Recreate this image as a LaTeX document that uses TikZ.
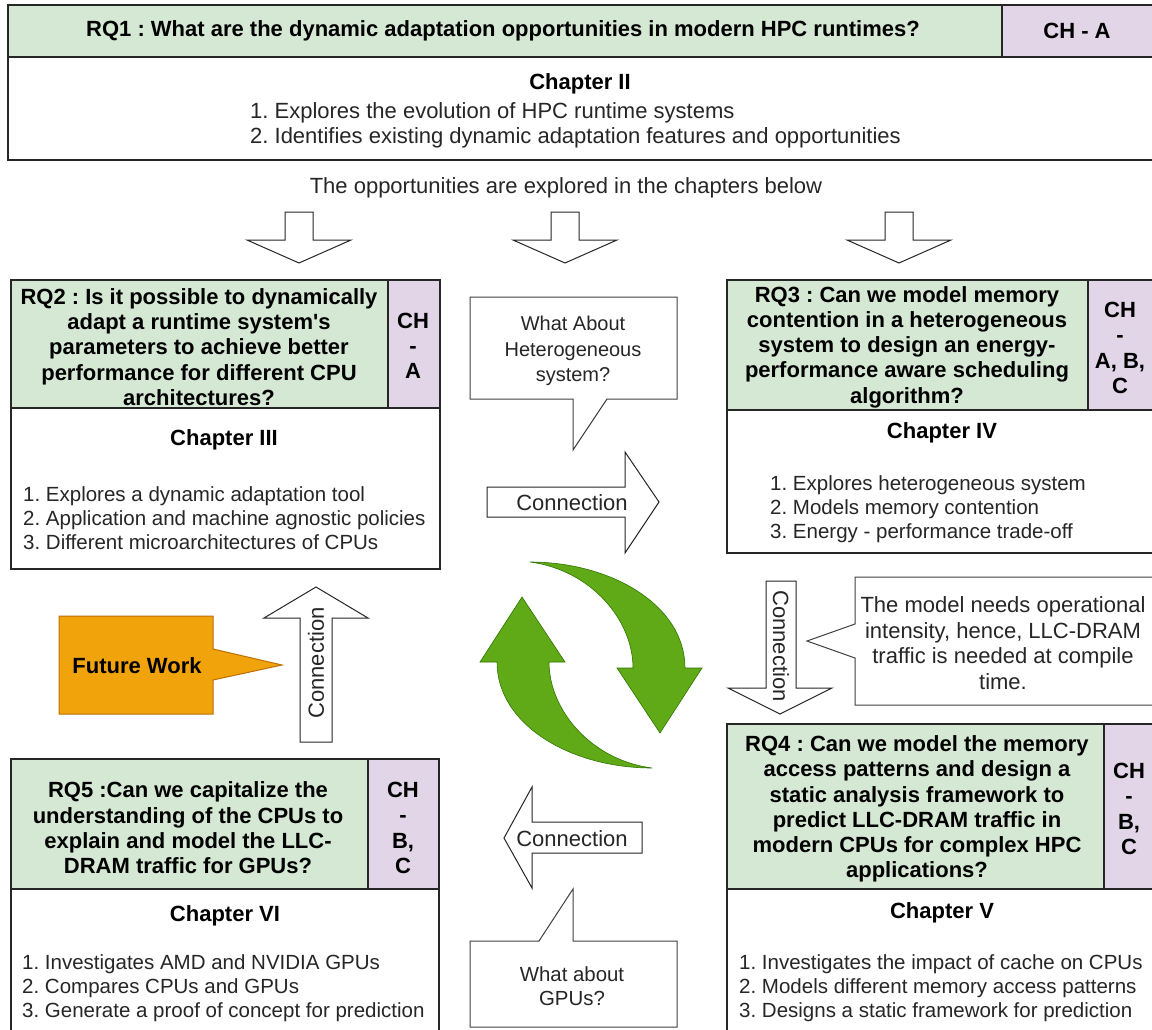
\documentclass[tikz,border=0pt]{standalone}
\usepackage{fontspec}
\setmainfont{Liberation Sans}
\frenchspacing

\definecolor{qgreen}{HTML}{D5E8D4}
\definecolor{chpurple}{HTML}{E1D5E7}
\definecolor{fworange}{HTML}{F0A30A}
\definecolor{fwedge}{HTML}{BD7000}
\definecolor{cyclegreen}{HTML}{60A917}
\definecolor{cycleedge}{HTML}{2D7600}

\newcommand{\bigfont}{\fontsize{22}{25.3}\selectfont}
\newcommand{\listfont}{\fontsize{20.5}{24}\selectfont}

\begin{document}
\begin{tikzpicture}[x=1pt,y=-1pt,
  box/.style={draw=black!85,line width=1.1pt},
  hd/.style={font=\bigfont\bfseries,align=center,inner sep=0pt},
  lst/.style={font=\listfont,align=left,anchor=west,inner sep=0pt,text=black!85},
  plain/.style={font=\bigfont,align=center,inner sep=0pt,text=black!85},
  blk/.style={draw=black!85,fill=white,line width=1pt,line join=miter},
  callout/.style={draw=black!75,fill=white,line width=1pt,line join=miter}]

\useasboundingbox (0,0) rectangle (1152,1029);
\fill[white] (0,0) rectangle (1152,1029);

% RQ1 / chapter II
\draw[box,fill=qgreen] (8,5) rectangle (1002,57);
\draw[box,fill=chpurple] (1002,5) rectangle (1165,57);
\draw[box,fill=white] (8,57) rectangle (1165,160);
\node[hd] (rq1) at (503,31) {RQ1 : What are the dynamic adaptation opportunities in modern HPC runtimes?};
\node[hd] (ch1) at (1077,31) {CH - A};
\node[hd] (chap2) at (580,84) {Chapter II};
\node[lst,font=\bigfont] (chap2list) at (250,125) {1. Explores the evolution of HPC runtime systems\\2. Identifies existing dynamic adaptation features and opportunities};

\node[plain] (opp) at (566,188) {The opportunities are explored in the chapters below};

\foreach \cx in {299,565,899}
  \draw[blk] (\cx-14,212) -- (\cx+14,212) -- (\cx+14,240) -- (\cx+52,240)
    -- (\cx,263) -- (\cx-52,240) -- (\cx-14,240) -- cycle;

% RQ2 / chapter III
\draw[box,fill=qgreen] (11,280) rectangle (388,408);
\draw[box,fill=chpurple] (388,280) rectangle (440,408);
\draw[box,fill=white] (11,408) rectangle (440,569);
\node[hd] (rq2) at (199,347) {RQ2 : Is it possible to dynamically\\adapt a runtime system\textquotesingle s\\parameters to achieve better\\performance for different CPU\\architectures?};
\node[hd] (ch2) at (413,346) {CH\\-\\A};
\node[hd] (chap3) at (224,440) {Chapter III};
\node[lst] (chap3list) at (23,518) {1. Explores a dynamic adaptation tool\\2. Application and machine agnostic policies\\3. Different microarchitectures of CPUs};

% RQ3 / chapter IV
\draw[box,fill=qgreen] (727,280) rectangle (1088,410);
\draw[box,fill=chpurple] (1088,280) rectangle (1165,410);
\draw[box,fill=white] (727,410) rectangle (1165,553);
\node[hd] (rq3) at (907,347) {RQ3 : Can we model memory\\contention in a heterogeneous\\system to design an energy-\\performance aware scheduling\\algorithm?};
\node[hd] (ch3) at (1120,348) {CH\\-\\A, B,\\C};
\node[hd] (chap4) at (942,433) {Chapter IV};
\node[lst] (chap4list) at (770,509) {1. Explores heterogeneous system\\2. Models memory contention\\3. Energy - performance trade-off};

% RQ4 / chapter V
\draw[box,fill=qgreen] (727,724) rectangle (1104,889);
\draw[box,fill=chpurple] (1104,724) rectangle (1165,889);
\draw[box,fill=white] (727,889) rectangle (1165,1045);
\node[hd] (rq4) at (917,809) {RQ4 : Can we model the memory\\access patterns and design a\\static analysis framework to\\predict LLC-DRAM traffic in\\modern CPUs for complex HPC\\applications?};
\node[hd] (ch4) at (1129,809) {CH\\-\\B,\\C};
\node[hd] (chap5) at (942,913) {Chapter V};
\node[lst] (chap5list) at (739,988) {1. Investigates the impact of cache on CPUs\\2. Models different memory access patterns\\3. Designs a static framework for prediction};

% RQ5 / chapter VI
\draw[box,fill=qgreen] (11,759) rectangle (368,889);
\draw[box,fill=chpurple] (368,759) rectangle (439,889);
\draw[box,fill=white] (11,889) rectangle (439,1045);
\node[hd] (rq5) at (188,828) {RQ5 :Can we capitalize the\\understanding of the CPUs to\\explain and model the LLC-\\DRAM traffic for GPUs?};
\node[hd] (ch5) at (403,828) {CH\\-\\B,\\C};
\node[hd] (chap6) at (225,916) {Chapter VI};
\node[lst] (chap6list) at (22,988) {1. Investigates AMD and NVIDIA GPUs\\2. Compares CPUs and GPUs\\3. Generate a proof of concept for prediction};

% connection arrows
\draw[blk] (487,487) -- (625,487) -- (625,452) -- (659,502) -- (625,553) -- (625,517) -- (487,517) -- cycle;
\node[plain] (conn34) at (572,503) {Connection};
\draw[blk] (766,581) -- (796,581) -- (796,688) -- (832,688) -- (780,714) -- (728,688) -- (766,688) -- cycle;
\node[plain,rotate=-90] (conn45) at (781,646) {Connection};
\draw[blk] (642,822) -- (532,822) -- (532,787) -- (504,838) -- (532,888) -- (532,853) -- (642,853) -- cycle;
\node[plain] (conn56) at (572,839) {Connection};
\draw[blk] (300,742) -- (300,618) -- (264,618) -- (316,587) -- (368,618) -- (332,618) -- (332,742) -- cycle;
\node[plain,rotate=90] (conn62) at (316,663) {Connection};

% callouts
\draw[callout] (470,297) -- (677,297) -- (677,399) -- (607,399) -- (573,450) -- (573,399) -- (470,399) -- cycle;
\node[plain,font=\fontsize{20}{25.5}\selectfont] (hetero) at (573,351) {What About\\Heterogeneous\\system?};
\draw[callout] (470,941) -- (539,941) -- (573,889) -- (573,941) -- (677,941) -- (677,1027) -- (470,1027) -- cycle;
\node[plain,font=\fontsize{20.4}{24}\selectfont] (gpus) at (572,986) {What about\\GPUs?};
\draw[callout] (855,577) -- (1165,577) -- (1165,705) -- (855,705) -- (855,658) -- (807,641) -- (855,624) -- cycle;
\node[plain,font=\fontsize{22}{25.7}\selectfont] (model) at (1003,643) {The model needs operational\\intensity, hence, LLC-DRAM\\traffic is needed at compile\\time.};
\draw[draw=fwedge,fill=fworange,line width=1pt] (59,616) -- (213,616) -- (213,649) -- (282,665) -- (213,680) -- (213,714) -- (59,714) -- cycle;
\node[hd] (future) at (137,666) {Future Work};

% cycle arrows
\foreach \r in {0,180}{
\begin{scope}[shift={(591,665)},rotate=\r]
\draw[draw=cycleedge,fill=cyclegreen,line width=0.6pt,line join=miter]
  (-61,-103) .. controls (20,-103) and (94,-60) .. (94,3) -- (111,3) -- (69,68)
  -- (26,3) -- (42,3) .. controls (42,-45) and (0,-95) .. (-61,-103) -- cycle;
\end{scope}
}

\end{tikzpicture}
\end{document}
